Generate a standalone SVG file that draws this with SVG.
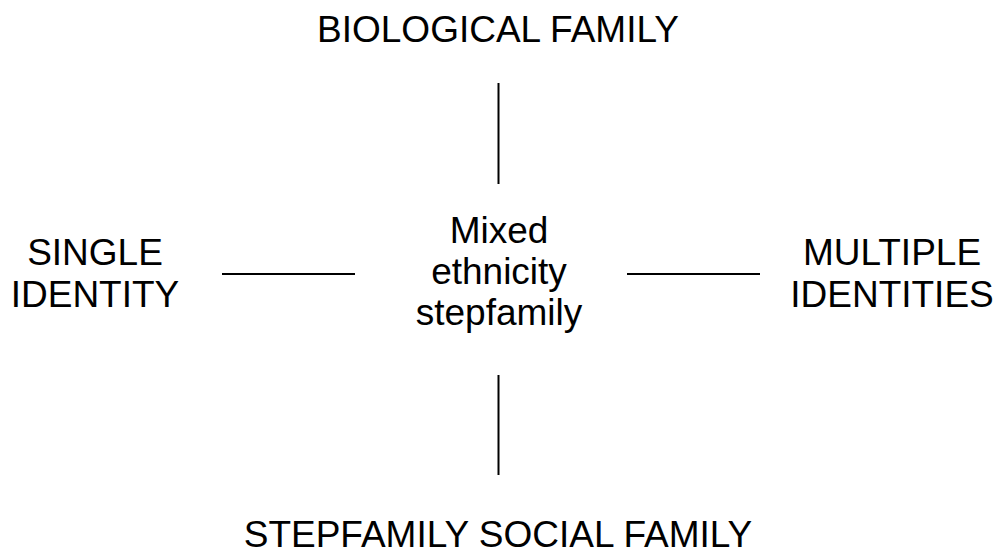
<svg xmlns="http://www.w3.org/2000/svg" width="998" height="556" viewBox="0 0 998 556">
<style>
text{font-family:"Liberation Sans",Arial,sans-serif;font-size:37px;fill:#000;text-anchor:middle}
.c{stroke:#000;stroke-width:2;fill:none}
</style>
<rect width="998" height="556" fill="#fff"/>
<g id="connectors">
<line class="c" x1="498.5" y1="83" x2="498.5" y2="184"/>
<line class="c" x1="498.5" y1="375" x2="498.5" y2="475"/>
<line class="c" x1="222" y1="274" x2="355" y2="274"/>
<line class="c" x1="627" y1="274" x2="760" y2="274"/>
</g>
<g id="top"><text x="498" y="42">BIOLOGICAL FAMILY</text></g>
<g id="left"><text x="95" y="265">SINGLE</text><text x="95" y="307">IDENTITY</text></g>
<g id="center"><text x="499" y="243">Mixed</text><text x="499" y="284">ethnicity</text><text x="499" y="325">stepfamily</text></g>
<g id="right"><text x="892" y="265">MULTIPLE</text><text x="892" y="307">IDENTITIES</text></g>
<g id="bottom"><text x="498" y="547">STEPFAMILY SOCIAL FAMILY</text></g>
</svg>
